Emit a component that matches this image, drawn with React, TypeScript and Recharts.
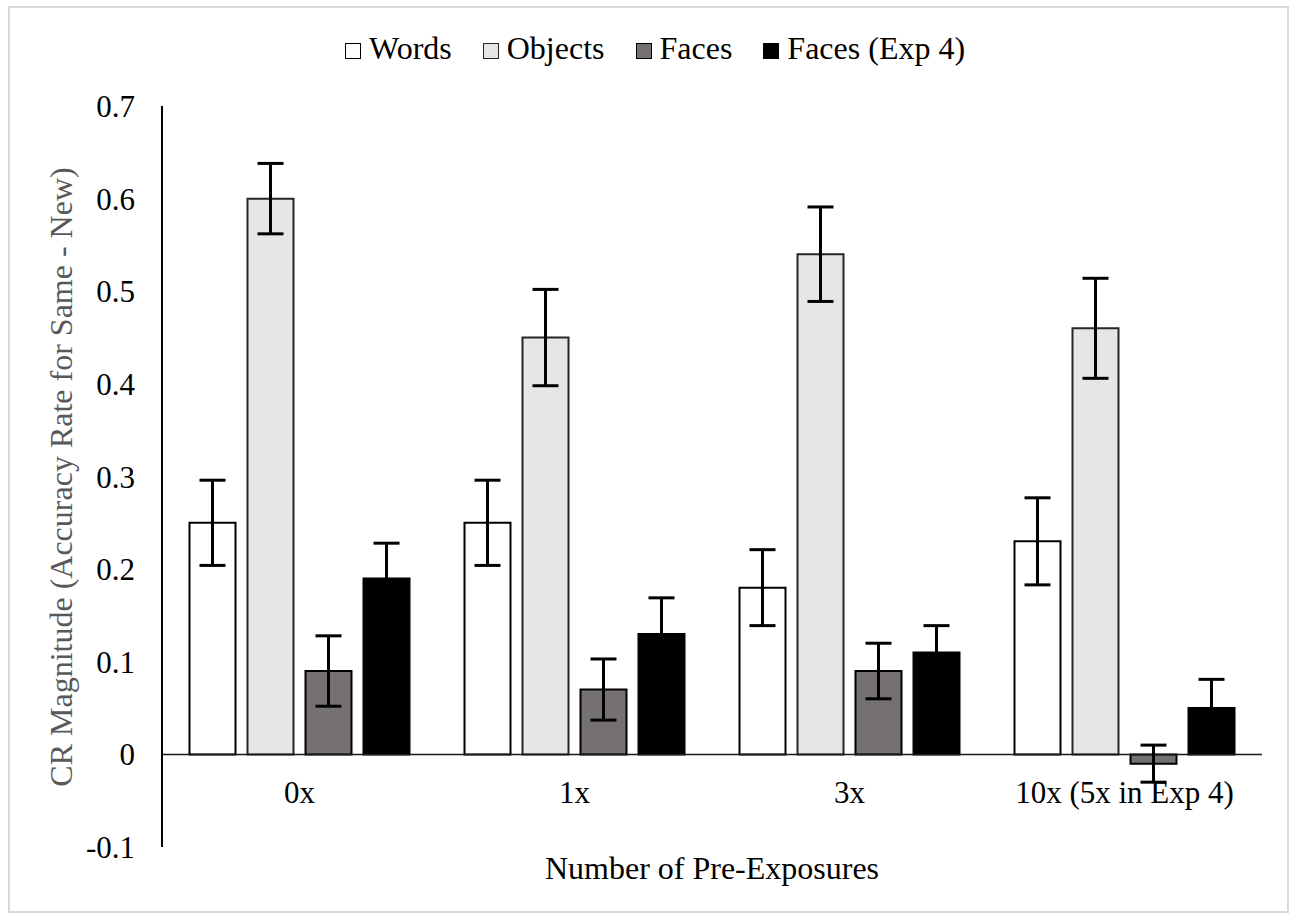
import { BarChart, Bar, XAxis, YAxis, ErrorBar, ReferenceLine } from 'recharts';

const CATEGORIES = ['0x', '1x', '3x', '10x (5x in Exp 4)'];

const WORDS = [0.25, 0.25, 0.18, 0.23];
const WORDS_ERR = [0.046, 0.046, 0.041, 0.047];
const OBJECTS = [0.6, 0.45, 0.54, 0.46];
const OBJECTS_ERR = [0.038, 0.052, 0.051, 0.054];
const FACES = [0.09, 0.07, 0.09, -0.01];
const FACES_ERR = [0.038, 0.033, 0.03, 0.02];
const FACES_EXP4 = [0.19, 0.13, 0.11, 0.05];
const FACES_EXP4_ERR = [0.038, 0.039, 0.029, 0.031];

const Y_TICKS = [-0.1, 0, 0.1, 0.2, 0.3, 0.4, 0.5, 0.6, 0.7];

const SERIES = [
  { key: 'words', name: 'Words', fill: '#FFFFFF', stroke: '#000000' },
  { key: 'objects', name: 'Objects', fill: '#E7E6E6', stroke: '#262626' },
  { key: 'faces', name: 'Faces', fill: '#767171', stroke: '#000000' },
  { key: 'exp4', name: 'Faces (Exp 4)', fill: '#000000', stroke: '#000000' },
];

const data = CATEGORIES.map((category, i) => ({
  category,
  words: WORDS[i],
  wordsErr: WORDS_ERR[i],
  objects: OBJECTS[i],
  objectsErr: OBJECTS_ERR[i],
  faces: FACES[i],
  facesErr: FACES_ERR[i],
  exp4: FACES_EXP4[i],
  exp4Err: FACES_EXP4_ERR[i],
}));

const FONT = '"Liberation Serif", "Times New Roman", serif';

const XTick = ({ x, payload }: any) => (
  <text x={x} y={803} textAnchor="middle" fontFamily={FONT} fontSize={31} fill="#000">
    {payload.value}
  </text>
);

export default function App() {
  return (
    <div style={{ position: 'absolute', left: 0, top: 0, width: 1291, height: 916, background: '#fff', fontFamily: FONT }}>
      {/* outer frame */}
      <div style={{ position: 'absolute', left: 8, top: 6, width: 1281, height: 907, border: '2px solid #D9D9D9', boxSizing: 'border-box' }} />

      {/* legend */}
      <div style={{ position: 'absolute', left: 345, top: 32, display: 'flex', alignItems: 'baseline', fontSize: 32, lineHeight: '32px', whiteSpace: 'nowrap' }}>
        {SERIES.map((s, i) => (
          <span key={s.key} style={{ marginLeft: i === 0 ? 0 : 31, display: 'inline-flex', alignItems: 'baseline' }}>
            <span style={{ display: 'inline-block', width: 16, height: 16, boxSizing: 'border-box', background: s.fill, border: `1.5px solid ${s.stroke}`, marginRight: 8 }} />
            <span>{s.name}</span>
          </span>
        ))}
      </div>

      <BarChart
        width={1291}
        height={916}
        data={data}
        margin={{ top: 106, right: 29, left: 62, bottom: 29 }}
        barCategoryGap="10%"
        barGap={12}
        style={{ position: 'absolute', left: 0, top: 0 }}
      >
        <XAxis dataKey="category" axisLine={false} tickLine={false} height={40} tick={<XTick />} interval={0} />
        <YAxis
          width={100}
          domain={[-0.1, 0.7]}
          ticks={Y_TICKS}
          allowDataOverflow
          tickFormatter={(v: number) => (v === 0 ? '0' : String(v))}
          axisLine={{ stroke: '#000', strokeWidth: 2 }}
          tickLine={false}
          tickSize={0}
          tickMargin={27}
          tick={{ fill: '#000', fontSize: 31, fontFamily: FONT }}
        />
        <ReferenceLine y={0} stroke="#1a1a1a" strokeWidth={1.5} />
        {SERIES.map((s) => (
          <Bar key={s.key} dataKey={s.key} name={s.name} fill={s.fill} stroke={s.stroke} strokeWidth={2} isAnimationActive={false}>
            <ErrorBar dataKey={`${s.key}Err`} width={13} strokeWidth={3} stroke="#000" direction="y" isAnimationActive={false} />
          </Bar>
        ))}
      </BarChart>

      {/* axis titles */}
      <svg width={1291} height={916} style={{ position: 'absolute', left: 0, top: 0, pointerEvents: 'none' }}>
        <text x={712} y={879} textAnchor="middle" fontFamily={FONT} fontSize={32} fill="#000">
          Number of Pre-Exposures
        </text>
        <text x={72} y={477} transform="rotate(-90, 72, 477)" textAnchor="middle" fontFamily={FONT} fontSize={32} fill="#595959">
          CR Magnitude (Accuracy Rate for Same - New)
        </text>
      </svg>
    </div>
  );
}
